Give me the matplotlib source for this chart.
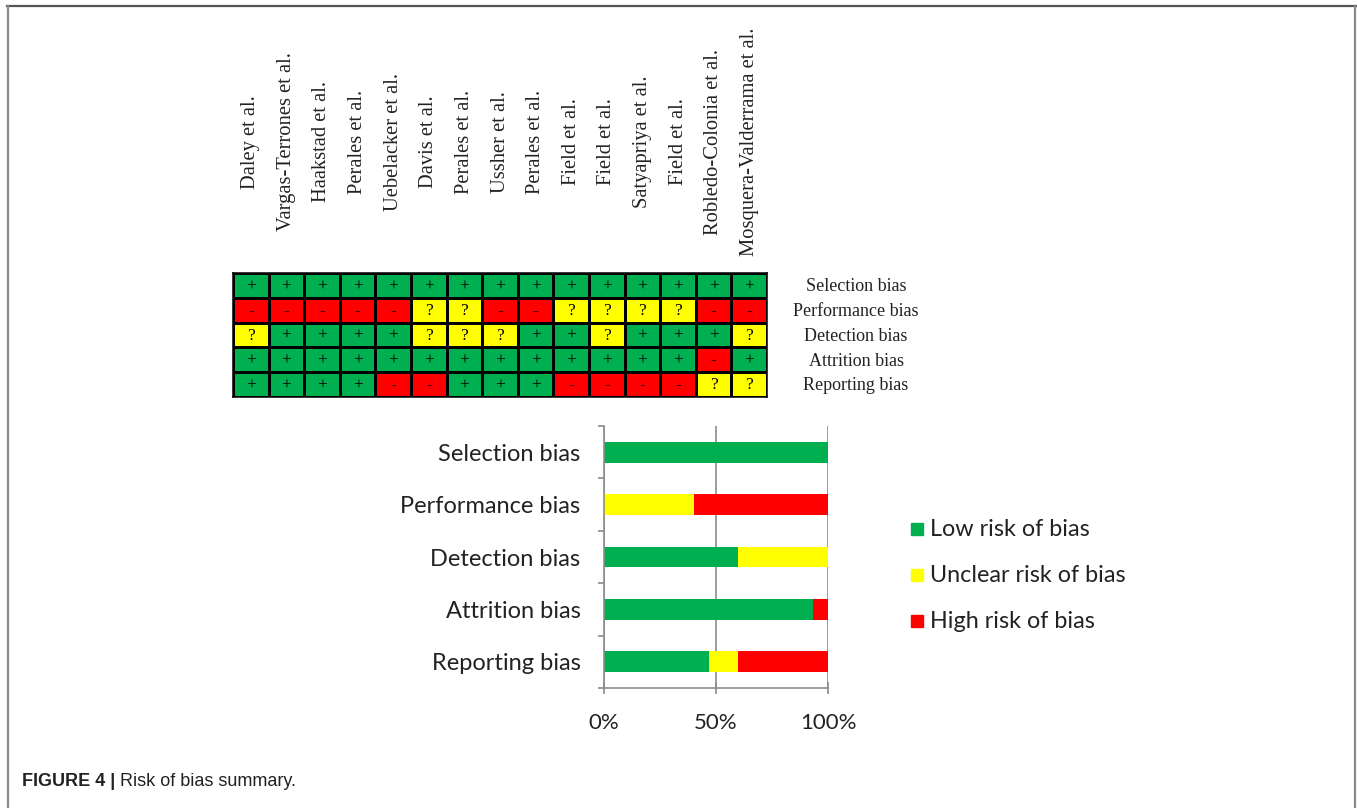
import matplotlib
matplotlib.use("Agg")
import matplotlib.pyplot as plt
from matplotlib.colors import ListedColormap
from matplotlib.lines import Line2D
from matplotlib.patches import Rectangle
from matplotlib.transforms import blended_transform_factory
import numpy as np

# ---- data -------------------------------------------------------------
studies = [
    "Daley et al.", "Vargas-Terrones et al.", "Haakstad et al.", "Perales et al.",
    "Uebelacker et al.", "Davis et al.", "Perales et al.", "Ussher et al.",
    "Perales et al.", "Field et al.", "Field et al.", "Satyapriya et al.",
    "Field et al.", "Robledo-Colonia et al.", "Mosquera-Valderrama et al.",
]
domains = ["Selection bias", "Performance bias", "Detection bias",
           "Attrition bias", "Reporting bias"]

# judgement per study: '+' low, '?' unclear, '-' high
selection_bias   = list("+++++++++++++++")
performance_bias = list("-----??--????--")
detection_bias   = list("?++++???++?+++?")
attrition_bias   = list("+++++++++++++-+")
reporting_bias   = list("++++--+++----??")

# percentage of studies in each risk category, per domain
low_pct     = [100.0, 0.0, 60.0, 93.3, 46.7]
unclear_pct = [0.0, 40.0, 40.0, 0.0, 13.3]
high_pct    = [0.0, 60.0, 0.0, 6.7, 40.0]

legend_labels = ["Low risk of bias", "Unclear risk of bias", "High risk of bias"]
x_ticks = [0, 50, 100]
x_tick_labels = ["0%", "50%", "100%"]

# ---- style --------------------------------------------------------------
GREEN, YELLOW, RED = "#00B050", "#FFFF00", "#FF0000"
AXIS_GREY = "#8c8c8c"
TEXT = "#222222"
SERIF = ["Liberation Serif", "DejaVu Serif"]
SANS = ["Lato", "DejaVu Sans"]
CAPTION = ["Liberation Sans", "DejaVu Sans"]

W, H = 1357, 808
fig = plt.figure(figsize=(W / 100, H / 100), dpi=100)
fig.patch.set_facecolor("white")


def rect(left, top, right, bottom):
    return [left / W, 1 - bottom / H, (right - left) / W, (bottom - top) / H]


# ---- page frame ------------------------------------------------------------
fig.add_artist(Line2D([7 / W, 1356 / W], [1 - 6 / H, 1 - 6 / H],
                      transform=fig.transFigure, color="#555555", lw=1.6))
fig.add_artist(Line2D([8 / W, 8 / W], [0, 1 - 6 / H],
                      transform=fig.transFigure, color="#8a8a8a", lw=1.6))
fig.add_artist(Line2D([1355 / W, 1355 / W], [0, 1 - 6 / H],
                      transform=fig.transFigure, color="#8a8a8a", lw=1.6))

# ---- risk-of-bias matrix ------------------------------------------------
rows = [selection_bias, performance_bias, detection_bias, attrition_bias, reporting_bias]
code = {"+": 0, "?": 1, "-": 2}
matrix = np.array([[code[s] for s in r] for r in rows])

axm = fig.add_axes(rect(233, 273, 767, 397))
axm.pcolormesh(matrix, cmap=ListedColormap([GREEN, YELLOW, RED]), vmin=-0.5, vmax=2.5,
               edgecolors="black", linewidth=0.9)
axm.set_xlim(0, len(studies))
axm.set_ylim(len(domains), 0)
for i, r in enumerate(rows):
    for j, s in enumerate(r):
        axm.text(j + 0.5, i + 0.53, s, ha="center", va="center", fontsize=12.5,
                 family=SERIF, color="black")
for sp in axm.spines.values():
    sp.set_linewidth(1.1)
axm.set_xticks([])
axm.set_yticks([])

# domain names to the right of the matrix, centred in their own column
row_tr = blended_transform_factory(fig.transFigure, axm.transData)
for i, name in enumerate(domains):
    axm.text(856 / W, i + 0.55, name, transform=row_tr, ha="center", va="center",
             family=SERIF, fontsize=13, color=TEXT)

# study names, rotated above each column
col_tr = blended_transform_factory(axm.transData, fig.transFigure)
for j, name in enumerate(studies):
    axm.text(j + 0.5, 1 - 142 / H, name, transform=col_tr, rotation=90,
             ha="center", va="center", family=SERIF, fontsize=14.8, color=TEXT)

# ---- summary bar chart ----------------------------------------------------
axb = fig.add_axes(rect(604, 426, 828, 688))
y = np.arange(len(domains))
low = np.array(low_pct)
unc = np.array(unclear_pct)
high = np.array(high_pct)
axb.barh(y, low, height=0.4, color=GREEN, zorder=2)
axb.barh(y, unc, left=low, height=0.4, color=YELLOW, zorder=2)
axb.barh(y, high, left=low + unc, height=0.4, color=RED, zorder=2)
axb.set_xlim(0, 100)
axb.set_ylim(len(domains) - 0.5, -0.5)
axb.set_axisbelow(True)
axb.xaxis.grid(True, color=AXIS_GREY, lw=1.2)
for side in ("top", "right"):
    axb.spines[side].set_visible(False)
for side in ("left", "bottom"):
    axb.spines[side].set_color(AXIS_GREY)
    axb.spines[side].set_linewidth(1.2)
axb.set_xticks(x_ticks)
axb.set_xticklabels(x_tick_labels, family=SANS, fontsize=16, color=TEXT)
axb.tick_params(axis="x", direction="inout", length=8, width=1.2, color=AXIS_GREY, pad=14)
axb.set_yticks(y)
axb.set_yticklabels(domains, family=SANS, fontsize=17, color=TEXT)
axb.set_yticks(np.arange(len(domains) + 1) - 0.5, minor=True)
axb.tick_params(axis="y", which="major", length=0, pad=17)
axb.tick_params(axis="y", which="minor", length=4.5, width=1.2, color=AXIS_GREY)

# ---- legend ----------------------------------------------------------------
for k, (lab, col) in enumerate(zip(legend_labels, [GREEN, YELLOW, RED])):
    yc = 529 + 46 * k
    fig.add_artist(Rectangle((911 / W, 1 - (yc + 6) / H), 12 / W, 12 / H,
                             transform=fig.transFigure, color=col))
    fig.text(930 / W, 1 - yc / H, lab, ha="left", va="center",
             family=SANS, fontsize=16.8, color=TEXT)

# ---- caption ---------------------------------------------------------------
t1 = fig.text(22 / W, 1 - 781 / H, "FIGURE 4 |", ha="left", va="center",
              family=CAPTION, fontsize=13, fontweight="bold", color=TEXT)
fig.canvas.draw()
bb = t1.get_window_extent(renderer=fig.canvas.get_renderer())
fig.text((bb.x1 + 5) / W, 1 - 781 / H, "Risk of bias summary.", ha="left",
         va="center", family=CAPTION, fontsize=13, color=TEXT)

fig.savefig("out.png", dpi=100, facecolor="white")
